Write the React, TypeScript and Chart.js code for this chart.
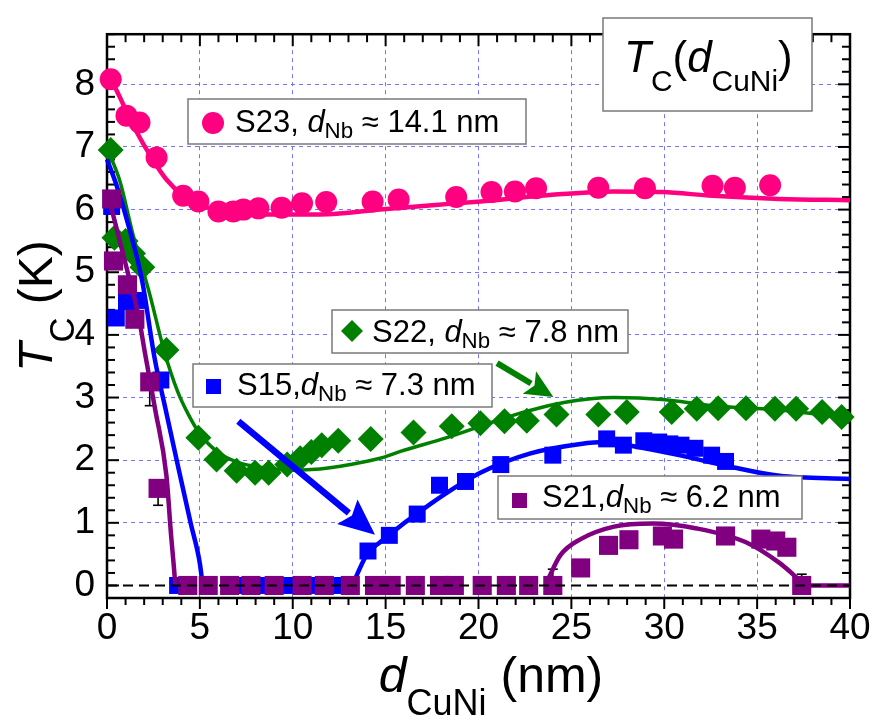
import React, { useEffect, useRef } from "react";
import { Chart, registerables } from "chart.js";

Chart.register(...registerables);

const FONT = '"Liberation Sans", Arial, Helvetica, sans-serif';

// ---- axes ----
const xMin = 0;
const xMax = 40;
const yMin = -0.2;
const yMax = 8.8;
const yTickValues = [0, 1, 2, 3, 4, 5, 6, 7, 8];

// ---- S23 (pink circles) ----
const s23X = [0.2, 1.05, 1.75, 2.67, 4.1, 4.92, 6.0, 6.8, 7.34, 8.15, 9.4, 10.5, 11.8, 14.3, 15.7, 18.8, 20.7, 21.96, 23.1, 26.45, 28.96, 32.6, 33.8, 35.7];
const s23Y = [8.08, 7.5, 7.39, 6.83, 6.22, 6.13, 5.97, 5.97, 6.0, 6.02, 6.03, 6.1, 6.12, 6.13, 6.16, 6.2, 6.28, 6.29, 6.34, 6.35, 6.34, 6.38, 6.35, 6.39];
const s23FitX = [0, 0.25, 1.5, 2.5, 3.2, 4.1, 5, 6.8, 8.6, 10.4, 12.2, 14.7, 17.5, 20.1, 23.7, 27.3, 29.9, 32.6, 36.2, 40];
const s23FitY = [8.15, 8.05, 7.29, 6.78, 6.48, 6.22, 6.07, 5.95, 5.92, 5.92, 5.93, 6.0, 6.07, 6.13, 6.23, 6.29, 6.28, 6.22, 6.17, 6.15];

// ---- S22 (green diamonds) ----
const s22X = [0.2, 0.4, 1.0, 1.4, 1.9, 3.2, 4.92, 5.9, 6.98, 7.97, 8.7, 9.7, 10.4, 11.0, 11.56, 12.45, 14.2, 16.5, 18.56, 20.1, 21.4, 22.6, 24.2, 26.45, 27.98, 30.4, 31.75, 32.9, 34.4, 35.96, 37.1, 38.5, 39.55];
const s22Y = [6.95, 5.55, 5.5, 5.3, 5.08, 3.76, 2.36, 2.01, 1.83, 1.8, 1.8, 1.93, 2.03, 2.13, 2.24, 2.31, 2.34, 2.44, 2.54, 2.59, 2.62, 2.63, 2.73, 2.73, 2.77, 2.77, 2.82, 2.83, 2.83, 2.82, 2.82, 2.77, 2.69];
const s22FitX = [0, 0.7, 1.4, 2.3, 3.1, 3.8, 4.4, 5.0, 6.0, 7.0, 8.0, 9.0, 10.0, 11.0, 12.0, 13.1, 14.7, 15.8, 18.3, 21.9, 24.6, 27.3, 29.9, 32.6, 36.2, 40];
const s22FitY = [6.98, 6.45, 5.6, 4.65, 3.72, 3.1, 2.72, 2.42, 2.12, 1.97, 1.9, 1.86, 1.84, 1.85, 1.88, 1.93, 2.03, 2.14, 2.36, 2.72, 2.92, 3.0, 2.97, 2.87, 2.8, 2.67];

// ---- S15 (blue squares) ----
const s15X = [0.25, 0.5, 1.05, 1.6, 2.9, 3.8, 7.2, 8.35, 9.8, 11.1, 12.5, 14.05, 15.2, 16.7, 17.9, 19.3, 21.2, 24.0, 26.9, 27.8, 28.9, 29.7, 30.3, 30.9, 31.65, 32.55, 33.3];
const s15Y = [6.05, 4.27, 4.53, 4.55, 3.28, 0, 0, 0, 0, 0, 0, 0.55, 0.8, 1.14, 1.6, 1.66, 1.93, 2.08, 2.34, 2.24, 2.31, 2.29, 2.26, 2.24, 2.19, 2.08, 1.98];
const s15FitLeftX = [0, 0.5, 1.2, 1.9, 2.55, 3.2, 3.9, 4.5, 5.0, 5.15];
const s15FitLeftY = [6.8, 6.4, 5.7, 4.85, 3.65, 2.75, 1.8, 1.0, 0.35, 0];
const s15FitRightX = [13.2, 14.0, 14.7, 17.4, 20.1, 22.8, 25.5, 26.8, 28.2, 30.8, 33.5, 36.2, 40];
const s15FitRightY = [0, 0.5, 0.69, 1.3, 1.8, 2.11, 2.26, 2.29, 2.23, 2.08, 1.9, 1.75, 1.7];

// ---- S21 (purple squares) ----
const s21X = [0.25, 0.35, 1.1, 1.5, 2.3, 2.75, 4.35, 5.45, 6.6, 7.75, 9.0, 10.5, 11.7, 13.1, 14.4, 15.3, 16.6, 17.9, 18.7, 20.2, 21.5, 22.7, 24.0, 25.5, 27.0, 28.1, 29.9, 30.5, 33.3, 35.2, 36.0, 36.6, 37.4];
const s21Y = [6.17, 5.18, 4.8, 4.25, 3.25, 1.55, 0, 0, 0, 0, 0, 0, 0, 0, 0, 0, 0, 0, 0, 0, 0, 0, 0, 0.28, 0.64, 0.73, 0.79, 0.74, 0.79, 0.74, 0.71, 0.61, 0];
const s21FitLeftX = [0, 0.6, 1.2, 1.7, 2.05, 2.6, 3.2, 3.45, 3.6, 3.68];
const s21FitLeftY = [6.3, 5.6, 4.9, 4.3, 3.7, 2.8, 1.75, 0.8, 0.3, 0];
const s21FitRightX = [23.6, 23.8, 24.4, 25.5, 27.3, 29.4, 31.75, 34.4, 36.2, 37.3, 37.6, 40];
const s21FitRightY = [0, 0.13, 0.48, 0.74, 0.94, 0.99, 0.91, 0.69, 0.36, 0.08, 0, 0];

// S21 error bars
const s21ErrX = [2.3, 2.75, 24.0, 37.4];
const s21ErrLow = [2.87, 1.28, 0, 0];
const s21ErrHigh = [3.25, 1.55, 0.26, 0.18];

// arrows (data units): [x1, y1, x2, y2]
const blueArrow = [7.07, 2.62, 14.43, 0.81];
const greenArrow = [21.0, 3.55, 24.03, 3.01];

const PINK = "#ff0080";
const GREEN = "#008000";
const BLUE = "#0000ff";
const PURPLE = "#800080";
const GRID = "#7373ff";

const pts = (xs: number[], ys: number[]) => xs.map((x, i) => ({ x, y: ys[i] }));

type Part = { t: string; it?: boolean; sub?: boolean };

function partFont(p: Part, size: number, subRatio: number) {
  const s = p.sub ? size * subRatio : size;
  return `${p.it ? "italic " : ""}${s}px ${FONT}`;
}
function richWidth(ctx: CanvasRenderingContext2D, parts: Part[], size: number, subRatio: number) {
  let w = 0;
  for (const p of parts) {
    ctx.font = partFont(p, size, subRatio);
    w += ctx.measureText(p.t).width;
  }
  return w;
}
function drawRich(
  ctx: CanvasRenderingContext2D,
  parts: Part[],
  x: number,
  y: number,
  size: number,
  subRatio: number,
  subDrop: number
) {
  let cx = x;
  ctx.textBaseline = "alphabetic";
  ctx.textAlign = "left";
  for (const p of parts) {
    ctx.font = partFont(p, size, subRatio);
    ctx.fillText(p.t, cx, p.sub ? y + size * subDrop : y);
    cx += ctx.measureText(p.t).width;
  }
}

function line(ctx: CanvasRenderingContext2D, x1: number, y1: number, x2: number, y2: number) {
  ctx.beginPath();
  ctx.moveTo(x1, y1);
  ctx.lineTo(x2, y2);
  ctx.stroke();
}

function drawArrow(
  ctx: CanvasRenderingContext2D,
  x1: number,
  y1: number,
  x2: number,
  y2: number,
  color: string,
  w: number,
  headLen: number,
  headW: number
) {
  const ang = Math.atan2(y2 - y1, x2 - x1);
  const c = Math.cos(ang);
  const s = Math.sin(ang);
  const bx = x2 - headLen * c;
  const by = y2 - headLen * s;
  ctx.strokeStyle = color;
  ctx.lineWidth = w;
  ctx.lineCap = "butt";
  line(ctx, x1, y1, bx + 2 * c, by + 2 * s);
  ctx.fillStyle = color;
  ctx.beginPath();
  ctx.moveTo(x2, y2);
  ctx.lineTo(bx + (headW / 2) * s, by - (headW / 2) * c);
  ctx.lineTo(bx + 6 * c, by + 6 * s);
  ctx.lineTo(bx - (headW / 2) * s, by + (headW / 2) * c);
  ctx.closePath();
  ctx.fill();
}

function legendBox(ctx: CanvasRenderingContext2D, x1: number, y1: number, x2: number, y2: number) {
  ctx.fillStyle = "#ffffff";
  ctx.fillRect(x1, y1, x2 - x1, y2 - y1);
  ctx.strokeStyle = "#7a7a7a";
  ctx.lineWidth = 1.5;
  ctx.strokeRect(x1, y1, x2 - x1, y2 - y1);
}

const LEG_SIZE = 31;
const LEG_SUB = 0.72;
const LEG_DROP = 0.2;

const decorPlugin = {
  id: "decor",
  beforeDatasetsDraw(chart: any) {
    const { ctx, chartArea: a, scales } = chart;
    const xs = scales.x;
    const ys = scales.y;
    ctx.save();
    // frame
    ctx.strokeStyle = "#000";
    ctx.lineWidth = 2.5;
    ctx.strokeRect(a.left, a.top, a.right - a.left, a.bottom - a.top);
    // ticks
    ctx.lineWidth = 2;
    for (let v = 0; v <= 40; v++) {
      const px = xs.getPixelForValue(v);
      const major = v % 5 === 0;
      line(ctx, px, a.bottom, px, a.bottom + (major ? 11 : 7));
      line(ctx, px, a.top, px, a.top + (major ? 12 : 8));
    }
    for (let k = -1; k <= 44; k++) {
      const v = k * 0.2;
      const py = ys.getPixelForValue(v);
      const major = k % 5 === 0;
      const L = major ? 12 : 8;
      line(ctx, a.left, py, a.left + L, py);
      line(ctx, a.right, py, a.right - L, py);
    }
    // error bars
    ctx.lineWidth = 1.6;
    ctx.strokeStyle = "#000";
    for (let i = 0; i < s21ErrX.length; i++) {
      const px = xs.getPixelForValue(s21ErrX[i]);
      const pl = ys.getPixelForValue(s21ErrLow[i]);
      const ph = ys.getPixelForValue(s21ErrHigh[i]);
      line(ctx, px, pl, px, ph);
      line(ctx, px - 5, pl, px + 5, pl);
      line(ctx, px - 5, ph, px + 5, ph);
    }
    ctx.restore();
  },
  afterDatasetsDraw(chart: any) {
    const { ctx, scales } = chart;
    const xs = scales.x;
    const ys = scales.y;
    ctx.save();
    // arrows
    drawArrow(
      ctx,
      xs.getPixelForValue(blueArrow[0]),
      ys.getPixelForValue(blueArrow[1]),
      xs.getPixelForValue(blueArrow[2]),
      ys.getPixelForValue(blueArrow[3]),
      BLUE,
      6.5,
      36,
      32
    );
    drawArrow(
      ctx,
      xs.getPixelForValue(greenArrow[0]),
      ys.getPixelForValue(greenArrow[1]),
      xs.getPixelForValue(greenArrow[2]),
      ys.getPixelForValue(greenArrow[3]),
      GREEN,
      6,
      28,
      26
    );

    // legend S23
    legendBox(ctx, 188, 99, 526, 144);
    ctx.fillStyle = PINK;
    ctx.beginPath();
    ctx.arc(213, 123, 11, 0, Math.PI * 2);
    ctx.fill();
    ctx.fillStyle = "#000";
    drawRich(
      ctx,
      [{ t: "S23, " }, { t: "d", it: true }, { t: "Nb", sub: true }, { t: " \u2248 14.1 nm" }],
      235,
      132,
      LEG_SIZE,
      LEG_SUB,
      LEG_DROP
    );

    // legend S22
    legendBox(ctx, 332, 310, 628, 353);
    ctx.fillStyle = GREEN;
    ctx.beginPath();
    ctx.moveTo(352, 320);
    ctx.lineTo(363, 331);
    ctx.lineTo(352, 342);
    ctx.lineTo(341, 331);
    ctx.closePath();
    ctx.fill();
    ctx.fillStyle = "#000";
    drawRich(
      ctx,
      [{ t: "S22, " }, { t: "d", it: true }, { t: "Nb", sub: true }, { t: " \u2248 7.8 nm" }],
      372,
      342,
      LEG_SIZE,
      LEG_SUB,
      LEG_DROP
    );

    // legend S15
    legendBox(ctx, 193, 364, 492, 407);
    ctx.fillStyle = BLUE;
    ctx.fillRect(206, 379, 15, 15);
    ctx.fillStyle = "#000";
    drawRich(
      ctx,
      [{ t: "S15," }, { t: "d", it: true }, { t: "Nb", sub: true }, { t: " \u2248 7.3 nm" }],
      237,
      395,
      LEG_SIZE,
      LEG_SUB,
      LEG_DROP
    );

    // legend S21
    legendBox(ctx, 498, 476, 802, 519);
    ctx.fillStyle = PURPLE;
    ctx.fillRect(512, 493, 15, 15);
    ctx.fillStyle = "#000";
    drawRich(
      ctx,
      [{ t: "S21," }, { t: "d", it: true }, { t: "Nb", sub: true }, { t: " \u2248 6.2 nm" }],
      542,
      507,
      LEG_SIZE,
      LEG_SUB,
      LEG_DROP
    );

    // title box
    legendBox(ctx, 603, 18, 812, 111);
    ctx.fillStyle = "#000";
    drawRich(
      ctx,
      [{ t: "T", it: true }, { t: "C", sub: true }, { t: "(" }, { t: "d", it: true }, { t: "CuNi", sub: true }, { t: ")" }],
      624,
      72,
      44,
      0.68,
      0.43
    );
    ctx.restore();
  },
  afterDraw(chart: any) {
    const { ctx } = chart;
    ctx.save();
    ctx.fillStyle = "#000";
    // x axis title
    const xParts: Part[] = [{ t: "d", it: true }, { t: "CuNi", sub: true }, { t: " (nm)" }];
    const xw = richWidth(ctx, xParts, 50, 0.72);
    drawRich(ctx, xParts, 491 - xw / 2, 692, 50, 0.72, 0.45);
    // y axis title
    const yParts: Part[] = [{ t: "T", it: true }, { t: "C", sub: true }, { t: " (K)" }];
    const yw = richWidth(ctx, yParts, 48, 0.72);
    ctx.translate(52, 306);
    ctx.rotate(-Math.PI / 2);
    drawRich(ctx, yParts, -yw / 2, 0, 48, 0.72, 0.45);
    ctx.restore();
  },
};

export default function App() {
  const ref = useRef<HTMLCanvasElement | null>(null);
  useEffect(() => {
    document.body.style.margin = "0";
    if (!ref.current) return;
    const pointDs = (label: string, data: any[], color: string, style: string, r: number) => ({
      label,
      data,
      showLine: false,
      pointStyle: style,
      pointRadius: r,
      pointHoverRadius: r,
      backgroundColor: color,
      borderColor: color,
      pointBorderWidth: 0,
      clip: false,
    });
    const fitDs = (label: string, data: any[], color: string, w: number) => ({
      label,
      data,
      showLine: true,
      borderColor: color,
      backgroundColor: color,
      borderWidth: w,
      pointRadius: 0,
      pointHoverRadius: 0,
      cubicInterpolationMode: "monotone",
      fill: false,
      clip: false,
    });
    const chart = new Chart(ref.current, {
      type: "scatter",
      data: {
        datasets: [
          {
            label: "zero",
            data: [
              { x: xMin, y: 0 },
              { x: xMax, y: 0 },
            ],
            showLine: true,
            borderColor: "#000",
            borderWidth: 2,
            borderDash: [10, 6],
            pointRadius: 0,
            pointHoverRadius: 0,
          } as any,
          pointDs("S21", pts(s21X, s21Y), PURPLE, "rect", 13.5),
          fitDs("S21 fit a", pts(s21FitLeftX, s21FitLeftY), PURPLE, 4.5),
          fitDs("S21 fit b", pts(s21FitRightX, s21FitRightY), PURPLE, 4.5),
          pointDs("S15", pts(s15X, s15Y), BLUE, "rect", 12),
          fitDs("S15 fit a", pts(s15FitLeftX, s15FitLeftY), BLUE, 4.5),
          fitDs("S15 fit b", pts(s15FitRightX, s15FitRightY), BLUE, 4.5),
          pointDs("S22", pts(s22X, s22Y), GREEN, "rectRot", 13),
          fitDs("S22 fit", pts(s22FitX, s22FitY), GREEN, 3.5),
          pointDs("S23", pts(s23X, s23Y), PINK, "circle", 11),
          fitDs("S23 fit", pts(s23FitX, s23FitY), PINK, 4.5),
        ] as any,
      },
      options: {
        animation: false,
        responsive: true,
        maintainAspectRatio: false,
        devicePixelRatio: 1,
        layout: { padding: { left: 0, top: 7, right: 39, bottom: 0 } },
        plugins: {
          legend: { display: false },
          tooltip: { enabled: false },
          title: { display: false },
        },
        scales: {
          x: {
            type: "linear",
            min: xMin,
            max: xMax,
            ticks: {
              stepSize: 5,
              padding: 9,
              color: "#000",
              font: { family: FONT, size: 37 },
            },
            grid: {
              drawTicks: false,
              color: (c: any) => (c.tick && (c.tick.value === xMin || c.tick.value === xMax) ? "rgba(0,0,0,0)" : GRID),
              lineWidth: 1,
            },
            border: { display: false, dash: [4, 4] },
            afterFit: (s: any) => {
              s.height = 126;
            },
          },
          y: {
            type: "linear",
            min: yMin,
            max: yMax,
            afterBuildTicks: (s: any) => {
              s.ticks = yTickValues.map((v) => ({ value: v }));
            },
            ticks: {
              padding: 12,
              color: "#000",
              font: { family: FONT, size: 37 },
            },
            grid: {
              drawTicks: false,
              color: (c: any) => (c.tick && c.tick.value === 0 ? "rgba(0,0,0,0)" : GRID),
              lineWidth: 1,
            },
            border: { display: false, dash: [4, 4] },
            afterFit: (s: any) => {
              s.width = 107;
            },
          },
        },
      } as any,
      plugins: [decorPlugin],
    });
    return () => chart.destroy();
  }, []);
  return (
    <div style={{ width: 889, height: 724, position: "relative" }}>
      <canvas ref={ref} />
    </div>
  );
}
